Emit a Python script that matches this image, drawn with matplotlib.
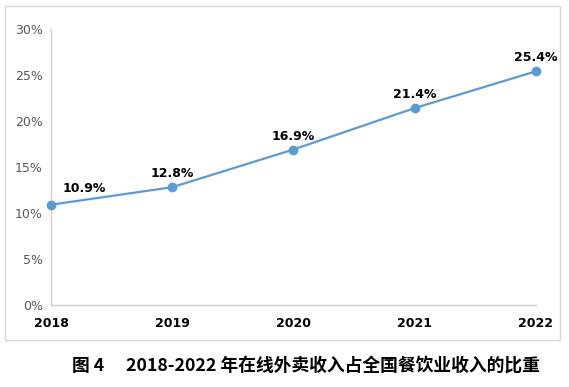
import matplotlib.pyplot as plt
from matplotlib.patches import Rectangle

plt.rcParams['font.family'] = ['DejaVu Sans', 'Noto Sans CJK SC']

# data
years = ['2018', '2019', '2020', '2021', '2022']
share = [10.9, 12.8, 16.9, 21.4, 25.4]
y_ticks = [0, 5, 10, 15, 20, 25, 30]
caption = '图 4\u3000 2018-2022 年在线外卖收入占全国餐饮业收入的比重'

fig = plt.figure(figsize=(5.69, 3.87), dpi=100)

# outer chart frame
fig.patches.append(Rectangle((0.009, 0.122), 0.975, 0.863, transform=fig.transFigure,
                             fill=False, edgecolor='#d9d9d9', linewidth=1))

ax = fig.add_axes([0.0896, 0.212, 0.852, 0.713])
x = list(range(len(years)))
ax.plot(x, share, color='#5b9bd5', linewidth=1.6, marker='o', markersize=6,
        clip_on=False, zorder=3)

for i, v in enumerate(share):
    if i == 0:
        ax.annotate(f'{v}%', (i, v), xytext=(8, 7), textcoords='offset points',
                    ha='left', va='bottom', fontsize=9, fontweight='bold')
    else:
        ax.annotate(f'{v}%', (i, v), xytext=(0, 5), textcoords='offset points',
                    ha='center', va='bottom', fontsize=9, fontweight='bold')

ax.set_xlim(0, len(years) - 1)
ax.set_ylim(0, 30)
ax.set_xticks(x)
ax.set_xticklabels(years, fontsize=9, fontweight='bold')
ax.set_yticks(y_ticks)
ax.set_yticklabels([f'{t}%' for t in y_ticks], fontsize=9, color='#595959')
ax.tick_params(axis='both', length=0)
ax.tick_params(axis='x', pad=9)
ax.tick_params(axis='y', pad=6)

for side in ['top', 'right']:
    ax.spines[side].set_visible(False)
for side in ['left', 'bottom']:
    ax.spines[side].set_color('#d0d0d0')
    ax.spines[side].set_linewidth(1)

fig.text(0.537, 0.055, caption, ha='center', va='center', fontsize=12.8,
         fontweight='bold', family=['Noto Sans CJK SC', 'DejaVu Sans'])

fig.savefig('out.png', dpi=100)
